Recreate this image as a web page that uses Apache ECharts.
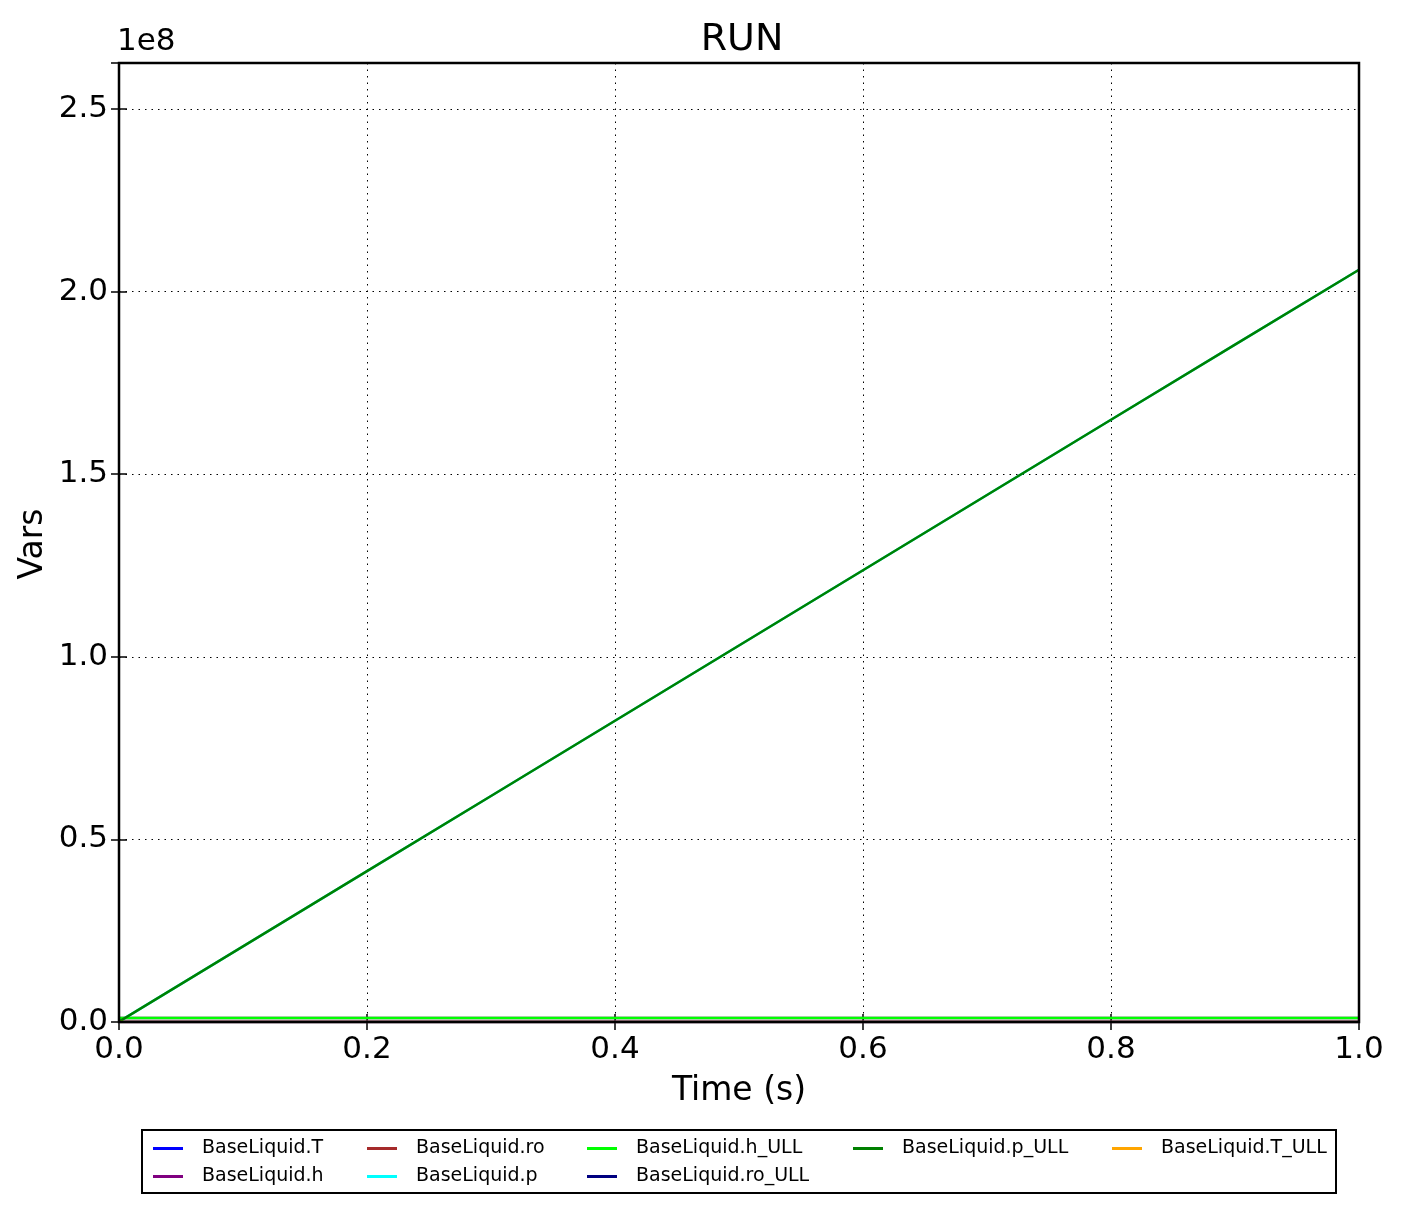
<!DOCTYPE html>
<html>
<head>
<meta charset="utf-8">
<script src="https://cdn.jsdelivr.net/npm/echarts@6/dist/echarts.min.js"></script>
<style>html,body{margin:0;padding:0;background:#fff;}#c{width:1402px;height:1214px;}</style>
</head>
<body>
<div id="c"></div>
<script>
const time = [0, 0.1, 0.2, 0.3, 0.4, 0.5, 0.6, 0.7, 0.8, 0.9, 1.0];
const T = [293, 293, 293, 293, 293, 293, 293, 293, 293, 293, 293];
const h = [1.1e6, 1.1e6, 1.1e6, 1.1e6, 1.1e6, 1.1e6, 1.1e6, 1.1e6, 1.1e6, 1.1e6, 1.1e6];
const ro = [1000, 1000, 1000, 1000, 1000, 1000, 1000, 1000, 1000, 1000, 1000];
const p = [1e5, 2.07e7, 4.13e7, 6.19e7, 8.25e7, 1.031e8, 1.237e8, 1.443e8, 1.649e8, 1.855e8, 2.06e8];
const h_ULL = [1.1e6, 1.1e6, 1.1e6, 1.1e6, 1.1e6, 1.1e6, 1.1e6, 1.1e6, 1.1e6, 1.1e6, 1.1e6];
const ro_ULL = [1000, 1000, 1000, 1000, 1000, 1000, 1000, 1000, 1000, 1000, 1000];
const p_ULL = [1e5, 2.07e7, 4.13e7, 6.19e7, 8.25e7, 1.031e8, 1.237e8, 1.443e8, 1.649e8, 1.855e8, 2.06e8];
const T_ULL = [293, 293, 293, 293, 293, 293, 293, 293, 293, 293, 293];

const seriesDefs = [
  ['BaseLiquid.T', T, '#0000ff'],
  ['BaseLiquid.h', h, '#800080'],
  ['BaseLiquid.ro', ro, '#a52a2a'],
  ['BaseLiquid.p', p, '#00ffff'],
  ['BaseLiquid.h_ULL', h_ULL, '#00ff00'],
  ['BaseLiquid.ro_ULL', ro_ULL, '#000080'],
  ['BaseLiquid.p_ULL', p_ULL, '#008000'],
  ['BaseLiquid.T_ULL', T_ULL, '#ffa500']
];
const legendCols = [
  [['BaseLiquid.T', 'BaseLiquid.h'], 148],
  [['BaseLiquid.ro', 'BaseLiquid.p'], 362],
  [['BaseLiquid.h_ULL', 'BaseLiquid.ro_ULL'], 582],
  [['BaseLiquid.p_ULL'], 848],
  [['BaseLiquid.T_ULL'], 1107]
];
const FONT = 'DejaVu Sans';
const chart = echarts.init(document.getElementById('c'));
const tickStyle = {inside: true, length: 8, lineStyle: {color: '#000', width: 1.5}};
const splitStyle = {show: true, lineStyle: {color: '#000', type: [1.5, 5], width: 1}};
chart.setOption({
  animation: false,
  backgroundColor: '#fff',
  title: {text: 'RUN', left: 737, top: 16, textAlign: 'center',
    textStyle: {fontFamily: FONT, fontSize: 38, fontWeight: 'normal', color: '#000'}},
  grid: {left: 119, top: 63, width: 1240, height: 959, show: false},
  legend: legendCols.map(([names, x]) => ({
    data: names, orient: 'vertical', left: x, top: 1134, itemGap: 9,
    itemWidth: 30, itemHeight: 3, icon: 'rect',
    textStyle: {fontFamily: FONT, fontSize: 19, color: '#000', padding: [0, 0, 0, 14]}
  })),
  xAxis: [{
    type: 'value', min: 0, max: 1, interval: 0.2,
    name: 'Time (s)', nameLocation: 'middle', nameGap: 53,
    nameTextStyle: {fontFamily: FONT, fontSize: 33, color: '#000'},
    axisLine: {show: false}, axisTick: tickStyle,
    axisLabel: {fontFamily: FONT, fontSize: 31, color: '#000', margin: 12, formatter: v => v.toFixed(1)},
    splitLine: splitStyle
  }, {
    type: 'value', position: 'top', min: 0, max: 1, interval: 0.2,
    axisLine: {show: false}, axisTick: tickStyle, axisLabel: {show: false}, splitLine: {show: false}
  }],
  yAxis: [{
    type: 'value', min: 0, max: 2.626e8, interval: 0.5e8,
    axisLine: {show: false}, axisTick: tickStyle,
    axisLabel: {fontFamily: FONT, fontSize: 31, color: '#000', margin: 11, showMaxLabel: false,
      formatter: v => (v / 1e8).toFixed(1)},
    splitLine: splitStyle
  }, {
    type: 'value', position: 'right', min: 0, max: 2.626e8, interval: 0.5e8,
    axisLine: {show: false}, axisTick: tickStyle, axisLabel: {show: false}, splitLine: {show: false}
  }],
  graphic: [
    {type: 'text', left: 117, top: 26, style: {text: '1e8', font: '31px "DejaVu Sans"', fill: '#000'}},
    {type: 'text', x: 33, y: 544, rotation: Math.PI / 2,
      style: {text: 'Vars', font: '33px "DejaVu Sans"', fill: '#000', align: 'center', verticalAlign: 'middle'}},
    {type: 'rect', shape: {x: 119, y: 63, width: 1240, height: 959}, style: {fill: 'none', stroke: '#000', lineWidth: 2.5}, z: 100},
    {type: 'rect', shape: {x: 142, y: 1130, width: 1194, height: 63}, style: {fill: 'none', stroke: '#000', lineWidth: 2}, z: 10}
  ],
  series: seriesDefs.map(([name, vals, color]) => ({
    name, type: 'line', showSymbol: false, symbol: 'none',
    data: time.map((t, i) => [t, vals[i]]),
    lineStyle: {color, width: 2.5}, itemStyle: {color}, clip: true
  }))
});
</script>
</body>
</html>
